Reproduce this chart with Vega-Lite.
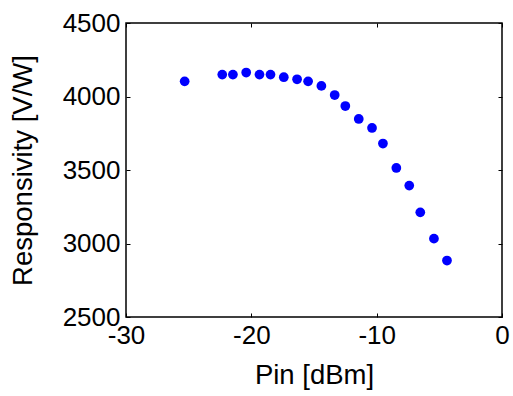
{
  "$schema": "https://vega.github.io/schema/vega-lite/v6.json",
  "width": 376,
  "height": 294,
  "autosize": {"type": "none"},
  "padding": {"left": 126, "top": 23, "right": 11, "bottom": 79},
  "background": "white",
  "config": {
    "view": {"stroke": "black", "strokeWidth": 1.5},
    "axis": {
      "font": "Liberation Sans",
      "labelFont": "Liberation Sans",
      "titleFont": "Liberation Sans",
      "labelFontSize": 26,
      "titleFontSize": 27.5,
      "labelColor": "black",
      "titleColor": "black",
      "titleFontWeight": "normal",
      "grid": false,
      "domain": false,
      "tickColor": "black",
      "tickSize": -4,
      "tickWidth": 1,
      "labelExpr": "'' + datum.value"
    }
  },
  "data": {
    "values": [
      {"pin": -25.32, "r": 4103},
      {"pin": -22.32, "r": 4149},
      {"pin": -21.47, "r": 4149},
      {"pin": -20.41, "r": 4163},
      {"pin": -19.35, "r": 4149},
      {"pin": -18.47, "r": 4149},
      {"pin": -17.41, "r": 4131},
      {"pin": -16.35, "r": 4117},
      {"pin": -15.47, "r": 4103},
      {"pin": -14.41, "r": 4072},
      {"pin": -13.35, "r": 4010},
      {"pin": -12.5, "r": 3935},
      {"pin": -11.43, "r": 3847},
      {"pin": -10.37, "r": 3786},
      {"pin": -9.5, "r": 3680},
      {"pin": -8.43, "r": 3514},
      {"pin": -7.4, "r": 3394},
      {"pin": -6.52, "r": 3212},
      {"pin": -5.43, "r": 3033},
      {"pin": -4.39, "r": 2884}
    ]
  },
  "layer": [
    {
      "mark": {"type": "point", "filled": true, "color": "#0000ff", "opacity": 1, "size": 95},
      "encoding": {
        "x": {
          "field": "pin", "type": "quantitative",
          "scale": {"domain": [-30, 0], "nice": false, "zero": false},
          "axis": {"title": "Pin [dBm]", "values": [-30, -20, -10, 0], "labelPadding": 9, "titlePadding": 13, "labelFlush": false}
        },
        "y": {
          "field": "r", "type": "quantitative",
          "scale": {"domain": [2500, 4500], "nice": false, "zero": false},
          "axis": {"title": "Responsivity [V/W]", "values": [2500, 3000, 3500, 4000, 4500], "labelPadding": 10, "titlePadding": 25, "labelFlush": false}
        }
      }
    },
    {
      "mark": {"type": "point", "opacity": 0},
      "encoding": {
        "x": {
          "field": "pin", "type": "quantitative",
          "axis": {"orient": "top", "title": null, "labels": false, "values": [-30, -20, -10, 0]}
        },
        "y": {
          "field": "r", "type": "quantitative",
          "axis": {"orient": "right", "title": null, "labels": false, "values": [2500, 3000, 3500, 4000, 4500]}
        }
      }
    }
  ],
  "resolve": {"axis": {"x": "independent", "y": "independent"}}
}
